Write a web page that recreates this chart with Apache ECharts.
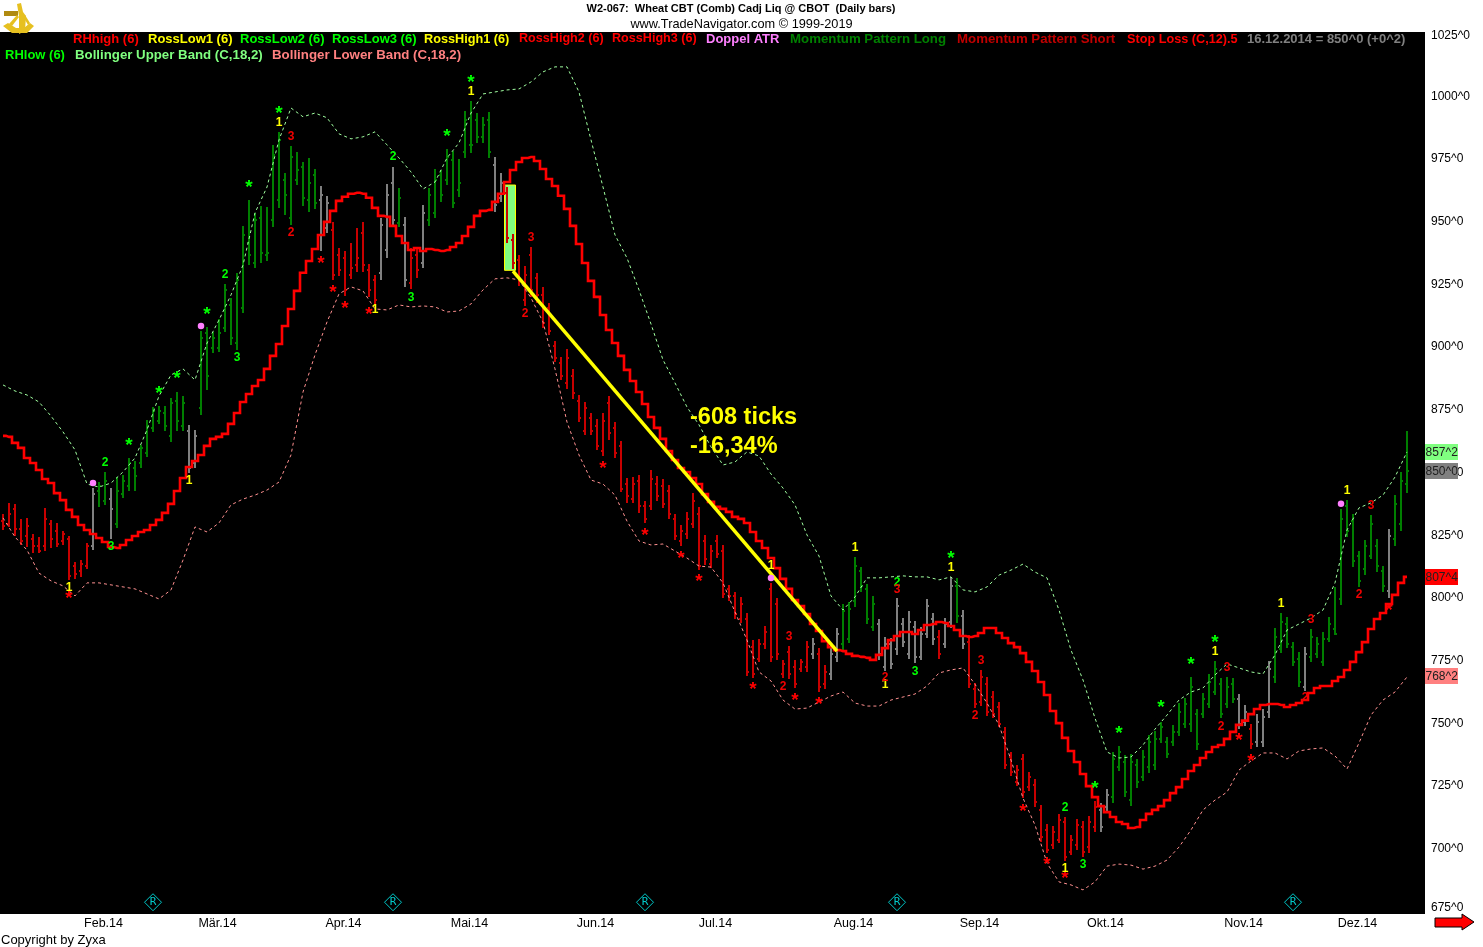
<!DOCTYPE html>
<html><head><meta charset="utf-8">
<style>html,body{margin:0;padding:0;background:#fff}#c{width:1483px;height:947px}</style>
<script src="https://cdn.jsdelivr.net/npm/echarts@6/dist/echarts.min.js"></script>
</head><body><div id="c"></div>
<script>
const barHighs=[
832.9,837.3,836.9,830.9,831.3,824.9,823.7,835.3,830.5,829.3,
826.1,824.1,813.7,814.5,821.3,843.2,845.6,849.6,843.2,847.6,
848.4,855.2,854,860.4,870.3,875.5,875.9,875.9,879.1,881.5,
879.9,868.4,866.4,905.8,907.4,905.4,910.6,924.6,919,929,
947.7,958.1,952.9,955.7,955.3,980,985.2,968.8,979.6,977.2,
973.2,974.8,970.4,963.6,959.7,949.3,938.9,937.7,940.9,946.9,
949.3,932.5,928.2,950.9,964.4,971.2,962.8,951.3,938.9,938.9,
956.1,962.8,970.4,970,978.4,977.6,974.4,993.5,997.5,992.7,
991.2,993.1,975.2,968.8,963.2,944.5,936.1,931.7,939.3,929,
923.4,917,901.8,895.5,898.7,890.7,880.3,877.5,873.1,870.7,
873.1,879.9,869.5,862,847.2,847.6,848.4,838.1,850.4,848,
846.8,844.4,832.9,828.5,833.7,841.2,835.7,824.5,820.5,824.5,
820.5,804.6,801.8,799.8,793.4,782.6,783,788.2,805.4,799.4,
774.7,780.2,774.7,775.1,782.2,783.4,779.4,772.7,779.8,787.4,
797,797.8,815.7,811.7,805,800.2,791,783.8,783.4,799.4,
791.4,794.2,790.2,787.8,799,793.4,786.6,791.4,807.8,807.4,
794.6,784.6,765.5,770.7,767.9,762.3,757.9,747.9,738,732.8,
737.2,730,727.2,716.8,709.3,708.5,713.3,712.1,704.9,711.3,
710.5,712.5,718.4,717.6,723.2,738,740.4,736.8,737.2,735.2,
738.8,744.8,746.3,749.9,744,748.8,757.5,759.5,767.9,755.1,
761.5,769.1,774.3,767.5,767.9,767.5,761.1,756.7,749.1,753.1,
755.1,774.3,787.4,793.4,791.8,781.8,777.8,779.8,787,783.8,
785.8,791.8,803.8,834.8,838.4,832.9,818.1,822.5,832.5,822.9,
812.1,826.9,840.4,849.6,866];
const barLows=[
826.5,827.7,824.1,820.5,819.7,817.3,817.3,818.1,819.3,819.7,
820.5,806.6,807,807.8,810.9,818.5,835.7,836.5,822.9,827.3,
839.2,842,842,851.2,855.6,865.6,868.8,866,861.6,866,
866,849.2,851.2,872.3,882.3,897.1,897.5,905.4,900.2,898.3,
913,932.1,930.9,932.9,933.7,947.3,954.9,952.1,948.1,964,
955.7,953.3,954.5,937.7,944.9,926.2,927.8,919.8,926.6,929.4,
929.4,919.4,916.2,926.2,934.9,947.3,947.3,923.4,922.6,927,
930.9,947.7,950.9,957.3,964,954.9,959.3,974.8,976.8,980.8,
980.8,974.8,953.3,957.3,940.9,930.6,923.8,915.8,919.4,917,
907,904.2,893.5,886.3,882.7,878.7,869.5,864.4,864.4,858.4,
856,862.4,855.2,841.6,837.3,837.3,833.3,829.3,834.5,838.1,
835.3,830.9,822.5,820.1,822.9,827.3,810.5,812.5,811.3,815.3,
799.4,798.2,791,789.4,768.3,767.5,773.9,779,773.9,774.7,
767.5,767.1,763.5,769.9,769.9,775.1,761.9,763.1,766.7,773.9,
778.6,781.4,795.8,801.8,789,786.2,774.7,770.3,771.1,776.7,
779.8,775.1,773.5,774.7,783.4,780.6,775.1,779.4,787.4,789.4,
779,763.5,755.5,756.3,752.3,751.5,747.9,731.2,728.4,724.4,
719.6,722.4,716.1,702.1,697.7,699.3,701.7,694.5,696.9,698.9,
696.1,697.7,706.1,706.1,714.5,717.6,730.4,720,716.4,723.6,
726.4,729.6,730.8,741.6,735.6,740.4,744.4,747.5,746,738.8,
751.5,755.5,760.7,751.5,755.5,757.5,747.1,748.3,739.2,740,
740,751.5,765.5,777.4,779.4,772.3,763.9,762.3,773.9,775.5,
772.3,781.8,784.6,796.6,823.7,811.7,803.8,808.5,814.9,809.7,
801.8,799.4,820.1,826.1,841.2];
const barOpens=[
830,829,835,827,824,823,820,820,829,826,
822,823,812,810,812,820,842,838,839,829,
841,844,851,853,857,867,870,873,864,878,
868,866,853,875,905,899,899,907,916,901,
915,941,933,951,936,950,958,966,951,966,
971,958,968,958,947,946,936,935,928,932,
945,930,926,929,938,965,949,948,925,936,
933,950,953,968,966,974,962,977,980,990,
983,990,972,959,961,942,934,918,936,927,
920,915,900,893,885,888,878,866,871,868,
858,877,867,860,845,839,846,836,836,845,
844,842,831,822,825,829,833,822,813,822,
818,803,800,791,791,780,775,781,803,797,
769,778,772,771,772,777,777,765,769,776,
781,783,798,810,803,788,789,772,781,779,
789,777,788,776,785,791,784,781,790,804,
792,782,763,758,765,760,756,746,736,726,
735,724,725,715,707,701,703,710,698,701,
708,700,708,715,716,720,732,734,719,733,
728,732,733,743,742,742,746,749,749,753,
753,757,762,765,757,765,759,750,747,742,
742,754,768,779,789,780,775,764,776,777,
774,783,787,799,836,830,816,811,816,820,
810,802,823,829,845];
const barCloses=[
828,833,827,822,828,820,818,831,823,821,
825,808,809,813,820,841,844,846,835,842,
846,853,848,859,868,874,874,868,877,870,
877,851,864,903,888,903,905,922,903,926,
944,936,950,937,937,976,982,960,975,970,
959,965,957,960,957,928,930,922,931,935,
932,922,918,948,960,950,959,926,935,930,
953,960,966,960,975,957,965,990,980,983,
988,977,956,965,943,933,926,928,922,920,
909,906,895,888,895,881,871,875,866,860,
870,865,857,843,840,845,836,831,847,840,
837,833,824,826,831,838,812,815,818,817,
801,800,793,797,770,769,781,786,776,777,
773,769,765,774,780,781,764,770,777,785,
794,795,812,804,791,797,777,781,773,796,
782,790,776,785,796,783,777,789,804,792,
781,765,757,768,754,753,749,733,730,731,
722,728,718,704,699,706,711,696,703,709,
698,710,716,708,721,735,738,722,734,726,
736,742,743,748,737,746,754,757,764,741,
759,766,771,753,764,759,749,754,741,750,
752,771,784,790,781,774,766,777,784,781,
783,789,785,831,826,814,806,820,829,812,
804,824,837,846,850];
const barTrendRuns=[['r',15],['n',1],['g',2],['n',1],['g',12],['n',2],['g',20],['n',2],['r',8],['n',3],['g',1],['n',1],['r',2],['n',1],['g',11],['n',2],['r',51],['n',1],['r',2],['n',2],['g',6],['n',10],['r',1],['n',2],['g',1],['n',1],['r',22],['n',2],['g',21],['n',2],['r',1],['n',3],['g',5],['n',1],['g',13],['n',1],['g',3]];
const stopLoss=[
864.0,863.6,861.2,859.2,855.2,853.2,850.4,846.8,845.2,841.2,
838.4,834.5,831.7,828.5,826.5,824.9,823.3,821.7,819.7,819.3,
820.5,822.5,824.1,825.7,826.5,828.5,830.5,833.3,836.9,842,
847.2,851.6,854,856.4,860,862.8,863.6,864.8,868.8,873.1,
877.5,880.7,883.9,886.3,890.7,895.9,900.6,907.8,914.6,921.8,
929,933.7,938.5,944.1,949.3,953.7,957.7,959.3,960.5,960.9,
960.5,958.9,954.9,951.7,951.3,947.7,943.7,940.9,938.1,938.9,
937.7,938.5,938.1,937.7,938.1,939.3,940.9,943.7,947.3,951.7,
953.7,954.1,957.3,960.5,965.2,970,973.2,974.8,975.2,973.6,
970.4,966.4,963.6,959.7,954.5,947.7,940.5,932.9,925.8,919.4,
912.2,906.2,901,895.9,890.3,885.9,881.5,876.7,871.5,867.2,
862.8,858,854.4,851.2,849.6,847.2,844.8,840.8,837.7,835.7,
834.9,833.7,831.7,830.9,829.3,825.7,822.1,819.3,815.3,811.3,
807,803,798.6,796.2,793,789,786.2,782.2,779.8,778.6,
778.2,777.1,776.3,775.9,775.5,774.7,776.7,779.4,782.6,784.2,
785.8,785.8,785,786.6,788.6,789,789.8,789.4,788.2,786.6,
784.2,783.8,784.2,785.4,787.4,787.4,785.4,783.4,781.4,779.8,
777.4,773.9,770.3,765.9,760.7,754.3,749.5,743.6,738.4,734,
729.2,724.4,720,716.4,714,712.1,710.1,709.3,707.7,708.1,
710.9,713.3,714.9,716.4,718.8,721.6,724,727.2,730.4,732.8,
735.6,738,740,740.8,743.2,746,748.8,750.5,753.1,755.1,
756.7,757.1,757.1,756.7,755.9,756.7,757.5,758.7,761.5,763.5,
764.3,764.3,766.3,767.9,770.7,773.9,777.8,781.8,787,791,
793.4,797,800.6,805.4,807.8];
// Bollinger bands, read at every second bar
const upperBand=[
884.3,881.9,880.3,877.5,871.9,865.6,858.4,844.8,843.6,845.2,
849.6,855.2,866.4,879.9,888.3,890.7,886.3,901,910.2,920.2,
932.1,952.9,963.2,982,994.7,991.2,992.7,990.8,984.4,982.4,
983.2,985.2,980,974.8,969.2,962.4,965.2,974.8,980.8,992.7,
1000.3,1001.1,1001.9,1002.3,1005.1,1009.1,1011.1,1011.1,1001.1,982,
963.2,944.1,934.9,922.2,908.6,894.3,885.1,875.5,868.4,859.6,
852.4,853.6,857.6,856,848.8,843.2,836.5,824.5,816.1,800.2,
794.6,799.8,807.4,807.4,807.8,808.2,807.8,807.8,806.6,807.8,
802.6,801.8,803.8,808.5,810.5,812.9,809.7,807.4,794.6,778.6,
766.7,751.5,738,735.6,736,740.8,747.1,752.7,758.7,761.9,
763.5,768.7,773.1,771.5,769.9,769.1,776.7,786.6,789,791.4,
794.6,805.4,826.5,835.3,837.3,840.4,847.6,857.6];
const lowerBand=[
831.3,823.7,818.5,809.3,806.2,804.2,800.2,805.4,805.4,804.6,
803.8,803,801,799,802.6,814.5,827.7,825.7,829.3,836.5,
838.8,840.4,842.4,845.6,856.4,881.5,896.3,909.4,920.6,923.4,
921.8,914.6,914.2,916.2,915.4,915.8,915.4,913.4,913.8,916.6,
922.2,926.6,927,926.2,919,909.4,890.7,869.5,856.4,846.4,
844.8,840.4,830,822.1,820.5,820.9,818.1,815.3,812.1,811.7,
805.4,793.8,782.6,769.9,766.3,758.7,755.1,755.5,757.9,760.3,
761.9,757.5,756.3,756.3,758.7,759.9,761.1,764.3,769.5,770.7,
771.5,765,757.5,748.8,734.8,719.6,708.9,693.7,686.2,685,
683,686.2,692.5,693.3,692.9,691.3,692.5,694.9,700.1,706.9,
714.9,718.8,722,730.8,734.4,737.6,737.6,735.2,738.4,739.2,
739.6,736.4,731.2,741.6,752.7,758.7,761.9,767.9];
const trendBarIdx=[85,139], trendLineVals=[929.7,778.2];
const signalBoxIdx=[84,85], signalBoxVals=[964,930];
const greenStars=[[21,861.6],[26,882.3],[29,888.3],[34,913.8],[41,964.4],[46,993.9],[74,984.8],[78,1006.3],[158,816.5],[182,724.8],[186,746.8],[193,757.1],[198,774.3],[202,783]];
const redStars=[[11,800.6],[53,934.1],[55,922.6],[57,916.2],[61,913.8],[100,852.4],[107,825.7],[113,816.5],[116,807.4],[125,764.3],[132,759.9],[136,758.3],[170,715.7],[174,694.5],[177,688.9],[206,744],[208,735.6],[231,795.8]];
const ones=[[11,803.4],[31,846],[46,988.8],[62,914.2],[78,1001.1],[128,812.1],[142,819.3],[147,764.7],[158,811.3],[177,691.3],[202,777.8],[213,797],[224,842]];
const green2=[[17,853.2],[37,928.2],[65,975.2],[149,805.4],[177,715.7]];
const green3=[[18,819.7],[39,895.1],[68,919],[152,769.9],[180,692.9]];
const red2=[[48,944.9],[87,912.6],[130,763.9],[147,767.5],[162,752.3],[203,747.9],[217,759.5],[226,800.5]];
const red3=[[48,983.1],[88,942.9],[131,783.8],[149,802.6],[163,774.2],[204,771.5],[218,790.6],[228,836]];
const atrDots=[[15,845.2],[33,907.8],[128,807.3],[223,836.9]];
const rolloverMarks=[[25,678.1],[65,678.1],[107,678.1],[149,678.1],[215,678.1]];
const monthIdx=[17,36,57,78,99,119,142,163,184,207,226];
const monthLabels=['Feb.14','Mär.14','Apr.14','Mai.14','Jun.14','Jul.14','Aug.14','Sep.14','Okt.14','Nov.14','Dez.14'];
const slotCount=237;
const legendNames1=['RHhigh (6)','RossLow1 (6)','RossLow2 (6)','RossLow3 (6)','RossHigh1 (6)','RossHigh2 (6)','RossHigh3 (6)','Doppel ATR','Momentum Pattern Long','Momentum Pattern Short','Stop Loss (C,12).5','16.12.2014 = 850^0 (+0^2)'];
const legendNames2=['RHlow (6)','Bollinger Upper Band (C,18,2)','Bollinger Lower Band (C,18,2)'];
const tagTexts=['857^2','850^0','807^4','768^2'];

// layout and style of the header, legend and tags
const legendStyle1=[[73,'#ff0000',13],[148,'#ffff00',13],[240,'#00ff00',13],[332,'#00ff00',13],[424,'#ffff00',12.7],[519,'#ff0000',12.6],[612,'#ff0000',12.6],[706,'#ff80ff',13],[790,'#008000',13.25],[957,'#c00000',13.25],[1127,'#ff0000',12.7],[1247,'#808080',13]];
const legendStyle2=[[5,'#00ff00',13],[75,'#80ff80',13.25],[272,'#ff8080',13.3]];
const tagStyle=[[444,'#80ff80'],[463,'#808080'],[569,'#ff0000'],[668,'#ff8080']];

const categories=new Array(slotCount).fill('');
monthIdx.forEach((m,k)=>categories[m]=monthLabels[k]);
const trend=[];barTrendRuns.forEach(([s,n])=>{for(let k=0;k<n;k++)trend.push(s)});
const trendColor={r:'#c80000',g:'#007f00',n:'#808080'};
const barData=barHighs.map((h,i)=>[i,barOpens[i],h,barLows[i],barCloses[i],trend[i]]);
const every2=a=>a.map((v,k)=>[k*2,v]);

function renderBar(params,api){
  const i=api.value(0),c=trendColor[barData[params.dataIndex][5]];
  const x=Math.round(api.coord([i,0])[0]);
  const yO=Math.round(api.coord([i,api.value(1)])[1]),yH=Math.round(api.coord([i,api.value(2)])[1]),
        yL=Math.round(api.coord([i,api.value(3)])[1]),yC=Math.round(api.coord([i,api.value(4)])[1]);
  const st={fill:c};
  return {type:'group',children:[
    {type:'rect',shape:{x:x-1,y:yH,width:2,height:yL-yH},style:st},
    {type:'rect',shape:{x:x-2,y:yO-1,width:1,height:2},style:st},
    {type:'rect',shape:{x:x+1,y:yC-1,width:1,height:2},style:st}]};
}
const marks=(name,color,text,data,font,off)=>({name,type:'scatter',data,symbolSize:1,z:6,
  itemStyle:{color:'rgba(0,0,0,0)',opacity:1},silent:true,
  label:{show:true,position:'inside',formatter:text,color,opacity:1,fontFamily:'Liberation Sans',fontWeight:'bold',fontSize:font,offset:off||[0,0]}});

const g=[];
g.push({type:'rect',z:-10,shape:{x:0,y:32,width:1425,height:882},style:{fill:'#000'}});
const txt=(text,x,y,fill,font,align)=>({type:'text',z:100,style:{text,x,y,fill,font,align:align||'left',verticalAlign:'middle'}});
g.push(txt('W2-067:  Wheat CBT (Comb) Cadj Liq @ CBOT  (Daily bars)',741,9,'#000','bold 11px "Liberation Sans"','center'));
g.push(txt('www.TradeNavigator.com © 1999-2019',741.5,24,'#000','12.75px "Liberation Sans"','center'));
legendNames1.forEach((t,k)=>{const [x,c,s]=legendStyle1[k];g.push(txt(t,x,39,c,'bold '+s+'px "Liberation Sans"'))});
legendNames2.forEach((t,k)=>{const [x,c,s]=legendStyle2[k];g.push(txt(t,x,55,c,'bold '+s+'px "Liberation Sans"'))});
g.push(txt('-608 ticks',690,418,'#ffff00','bold 23.5px "Liberation Sans"'));
g.push(txt('-16,34%',690,447,'#ffff00','bold 23.5px "Liberation Sans"'));
g.push(txt('Copyright by Zyxa',1,940,'#000','13px "Liberation Sans"'));
tagTexts.forEach((t,k)=>{const [y,c]=tagStyle[k];
  g.push({type:'rect',z:50,shape:{x:1425,y,width:33,height:16},style:{fill:c}});
  g.push(txt(t,1425.5,y+8.5,'#202020','12px "Liberation Sans"'));
});
g.push({type:'polygon',z:100,shape:{points:[[1435,918],[1462,918],[1462,914],[1474,922],[1462,930],[1462,927],[1435,927]]},style:{fill:'#ff0000',stroke:'#000',lineWidth:1}});
// sextant logo
const gold='#e6c020',dark='#b08a10';
g.push({type:'polygon',z:100,shape:{points:[[3,26],[8,23],[16,28],[24,28],[30,23],[34,26],[27,33],[12,33]]},style:{fill:gold}});
g.push({type:'polygon',z:100,shape:{points:[[17,4],[21,3],[23,12],[26,16],[25,31],[19,34],[19,16]]},style:{fill:gold}});
g.push({type:'rect',z:100,shape:{x:4,y:11,width:14,height:5},style:{fill:dark}});
g.push({type:'polygon',z:100,shape:{points:[[9,24],[17,15],[19,17],[12,26]]},style:{fill:gold}});
g.push({type:'polygon',z:100,shape:{points:[[25,15],[30,23],[28,25],[24,18]]},style:{fill:gold}});

const chart=echarts.init(document.getElementById('c'),null,{renderer:'canvas',width:1483,height:947});
const richBase={color:'#000',fontFamily:'Liberation Sans',fontSize:12};
chart.setOption({
  animation:false,backgroundColor:'#fff',
  grid:{left:0,top:32,width:slotCount*6,height:878,containLabel:false},
  xAxis:{type:'category',data:categories,boundaryGap:true,axisLine:{show:false},axisTick:{show:false},splitLine:{show:false},
    axisLabel:{interval:0,margin:7,color:'#000',fontFamily:'Liberation Sans',fontSize:12.5,padding:[0,3,0,0],hideOverlap:false}},
  yAxis:{type:'value',position:'right',min:675,max:1025,interval:25,axisLine:{show:false},axisTick:{show:false},splitLine:{show:false},
    axisLabel:{margin:9,color:'#000',fontFamily:'Liberation Sans',fontSize:12,padding:[3,0,0,0],
      formatter:v=>v===675?'{m|'+v+'^0}':v===1025?'{t|'+v+'^0}':v+'^0',
      rich:{m:Object.assign({padding:[0,0,8,0]},richBase),t:Object.assign({padding:[5,0,0,0]},richBase)}}},
  graphic:{elements:g},
  series:[
    {name:'signalBox',type:'custom',z:1,clip:true,data:[[signalBoxIdx[0],signalBoxVals[0],signalBoxIdx[1],signalBoxVals[1]]],encode:{x:[0,2],y:[1,3]},
      renderItem:(p,api)=>{const a=api.coord([api.value(0),api.value(1)]),b=api.coord([api.value(2),api.value(3)]);
        return {type:'rect',shape:{x:a[0]-2.5,y:a[1],width:b[0]-a[0]+5,height:b[1]-a[1]},style:{fill:'#80ff80',stroke:'#ffff00',lineWidth:1}};}},
    {name:'bars',type:'custom',z:2,data:barData.map(d=>d.slice(0,5)),encode:{x:0,y:[1,2,3,4]},renderItem:renderBar},
    {name:'Bollinger Upper Band',type:'line',z:3,data:every2(upperBand),showSymbol:false,lineStyle:{color:'#a0ffa0',width:1,type:[3,3]}},
    {name:'Bollinger Lower Band',type:'line',z:3,data:every2(lowerBand),showSymbol:false,lineStyle:{color:'#ff9090',width:1,type:[3,3]}},
    {name:'Stop Loss',type:'line',z:4,step:'middle',data:stopLoss.map((v,i)=>[i,v]),showSymbol:false,lineStyle:{color:'#ff0000',width:2.6,join:'miter'}},
    {name:'Trend',type:'line',z:5,data:[[trendBarIdx[0],trendLineVals[0]],[trendBarIdx[1],trendLineVals[1]]],showSymbol:false,lineStyle:{color:'#ffff00',width:3.5}},
    marks('greenStar','#00ff00','*',greenStars,19,[0,4]),
    marks('redStar','#ff0000','*',redStars,19,[0,4]),
    marks('one','#ffff00','1',ones,12),
    marks('green2','#00ff00','2',green2,12),
    marks('green3','#00ff00','3',green3,12),
    marks('red2','#f00000','2',red2,12),
    marks('red3','#f00000','3',red3,12),
    {name:'Doppel ATR',type:'scatter',z:6,data:atrDots,symbol:'circle',symbolSize:6.5,itemStyle:{color:'#ff80ff',opacity:1}},
    {name:'rollover',type:'scatter',z:6,data:rolloverMarks,symbol:'diamond',symbolSize:17,itemStyle:{color:'rgba(0,0,0,0)',borderColor:'#00c8c8',borderWidth:1,opacity:1},
      label:{show:true,position:'inside',formatter:'R',color:'#00c8c8',opacity:1,fontFamily:'DejaVu Sans Mono',fontSize:11}}
  ]
});
</script></body></html>
